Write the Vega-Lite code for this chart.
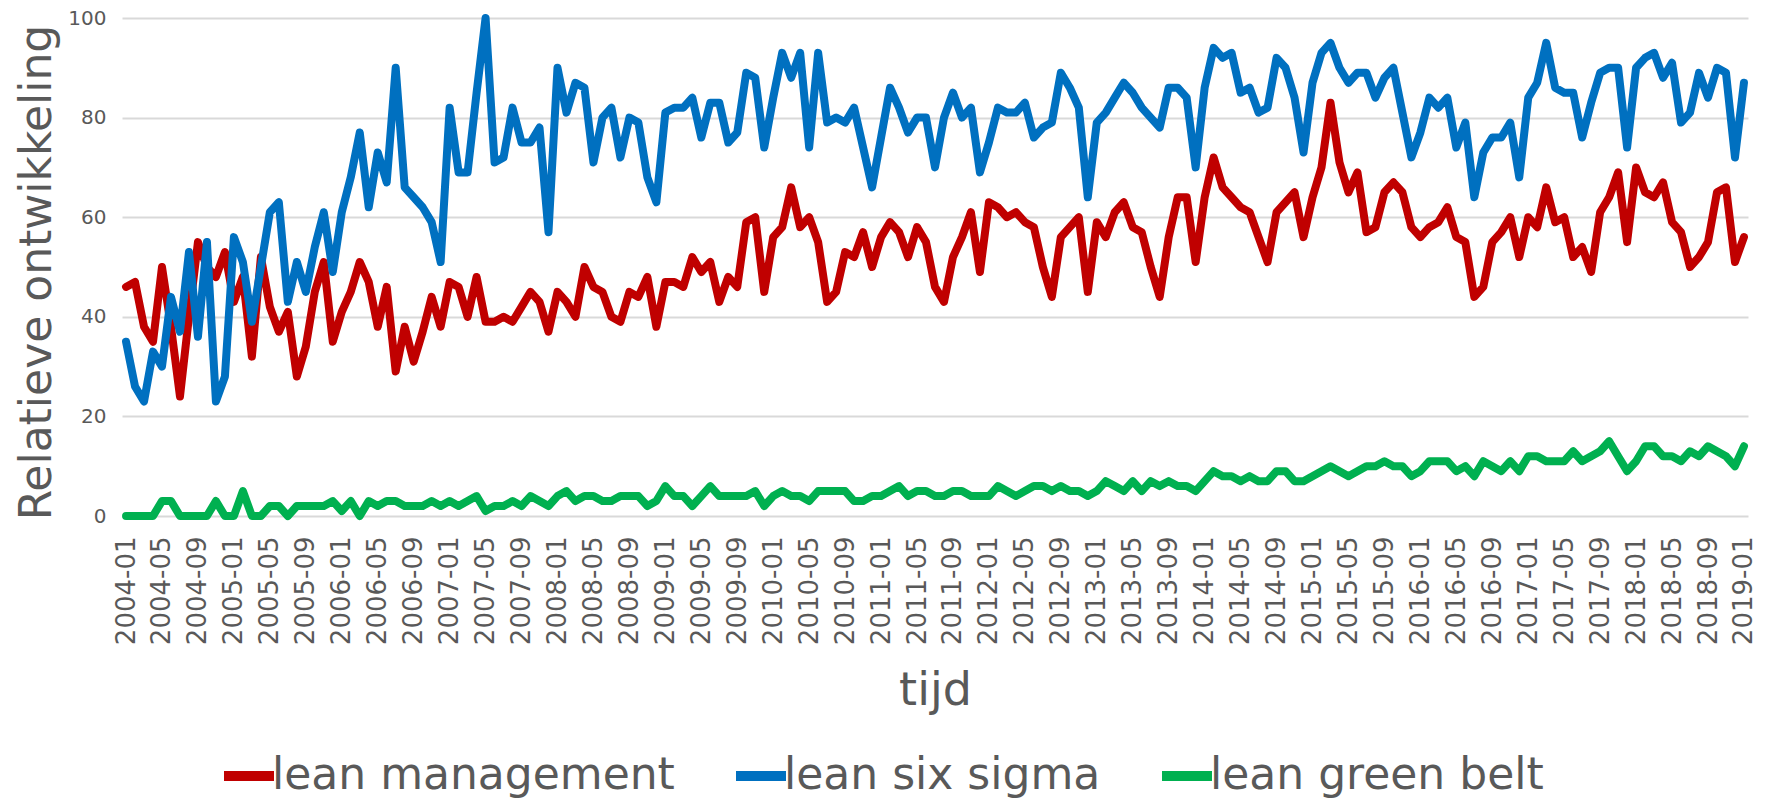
{
"$schema": "https://vega.github.io/schema/vega-lite/v6.json",
"width": 1626, "height": 498,
"autosize": {"type": "none"},
"padding": {"left": 122, "top": 18, "right": 29, "bottom": 283},
"config": {"view": {"stroke": null}, "font": "DejaVu Sans"},
"datasets": {"trends": [
{"m":"2004-01","lean management":46,"lean six sigma":35,"lean green belt":0},
{"m":"2004-02","lean management":47,"lean six sigma":26,"lean green belt":0},
{"m":"2004-03","lean management":38,"lean six sigma":23,"lean green belt":0},
{"m":"2004-04","lean management":35,"lean six sigma":33,"lean green belt":0},
{"m":"2004-05","lean management":50,"lean six sigma":30,"lean green belt":3},
{"m":"2004-06","lean management":38,"lean six sigma":44,"lean green belt":3},
{"m":"2004-07","lean management":24,"lean six sigma":37,"lean green belt":0},
{"m":"2004-08","lean management":40,"lean six sigma":53,"lean green belt":0},
{"m":"2004-09","lean management":55,"lean six sigma":36,"lean green belt":0},
{"m":"2004-10","lean management":50,"lean six sigma":55,"lean green belt":0},
{"m":"2004-11","lean management":48,"lean six sigma":23,"lean green belt":3},
{"m":"2004-12","lean management":53,"lean six sigma":28,"lean green belt":0},
{"m":"2005-01","lean management":43,"lean six sigma":56,"lean green belt":0},
{"m":"2005-02","lean management":48,"lean six sigma":51,"lean green belt":5},
{"m":"2005-03","lean management":32,"lean six sigma":39,"lean green belt":0},
{"m":"2005-04","lean management":52,"lean six sigma":50,"lean green belt":0},
{"m":"2005-05","lean management":42,"lean six sigma":61,"lean green belt":2},
{"m":"2005-06","lean management":37,"lean six sigma":63,"lean green belt":2},
{"m":"2005-07","lean management":41,"lean six sigma":43,"lean green belt":0},
{"m":"2005-08","lean management":28,"lean six sigma":51,"lean green belt":2},
{"m":"2005-09","lean management":34,"lean six sigma":45,"lean green belt":2},
{"m":"2005-10","lean management":45,"lean six sigma":54,"lean green belt":2},
{"m":"2005-11","lean management":51,"lean six sigma":61,"lean green belt":2},
{"m":"2005-12","lean management":35,"lean six sigma":49,"lean green belt":3},
{"m":"2006-01","lean management":41,"lean six sigma":61,"lean green belt":1},
{"m":"2006-02","lean management":45,"lean six sigma":68,"lean green belt":3},
{"m":"2006-03","lean management":51,"lean six sigma":77,"lean green belt":0},
{"m":"2006-04","lean management":47,"lean six sigma":62,"lean green belt":3},
{"m":"2006-05","lean management":38,"lean six sigma":73,"lean green belt":2},
{"m":"2006-06","lean management":46,"lean six sigma":67,"lean green belt":3},
{"m":"2006-07","lean management":29,"lean six sigma":90,"lean green belt":3},
{"m":"2006-08","lean management":38,"lean six sigma":66,"lean green belt":2},
{"m":"2006-09","lean management":31,"lean six sigma":64,"lean green belt":2},
{"m":"2006-10","lean management":37,"lean six sigma":62,"lean green belt":2},
{"m":"2006-11","lean management":44,"lean six sigma":59,"lean green belt":3},
{"m":"2006-12","lean management":38,"lean six sigma":51,"lean green belt":2},
{"m":"2007-01","lean management":47,"lean six sigma":82,"lean green belt":3},
{"m":"2007-02","lean management":46,"lean six sigma":69,"lean green belt":2},
{"m":"2007-03","lean management":40,"lean six sigma":69,"lean green belt":3},
{"m":"2007-04","lean management":48,"lean six sigma":85,"lean green belt":4},
{"m":"2007-05","lean management":39,"lean six sigma":100,"lean green belt":1},
{"m":"2007-06","lean management":39,"lean six sigma":71,"lean green belt":2},
{"m":"2007-07","lean management":40,"lean six sigma":72,"lean green belt":2},
{"m":"2007-08","lean management":39,"lean six sigma":82,"lean green belt":3},
{"m":"2007-09","lean management":42,"lean six sigma":75,"lean green belt":2},
{"m":"2007-10","lean management":45,"lean six sigma":75,"lean green belt":4},
{"m":"2007-11","lean management":43,"lean six sigma":78,"lean green belt":3},
{"m":"2007-12","lean management":37,"lean six sigma":57,"lean green belt":2},
{"m":"2008-01","lean management":45,"lean six sigma":90,"lean green belt":4},
{"m":"2008-02","lean management":43,"lean six sigma":81,"lean green belt":5},
{"m":"2008-03","lean management":40,"lean six sigma":87,"lean green belt":3},
{"m":"2008-04","lean management":50,"lean six sigma":86,"lean green belt":4},
{"m":"2008-05","lean management":46,"lean six sigma":71,"lean green belt":4},
{"m":"2008-06","lean management":45,"lean six sigma":80,"lean green belt":3},
{"m":"2008-07","lean management":40,"lean six sigma":82,"lean green belt":3},
{"m":"2008-08","lean management":39,"lean six sigma":72,"lean green belt":4},
{"m":"2008-09","lean management":45,"lean six sigma":80,"lean green belt":4},
{"m":"2008-10","lean management":44,"lean six sigma":79,"lean green belt":4},
{"m":"2008-11","lean management":48,"lean six sigma":68,"lean green belt":2},
{"m":"2008-12","lean management":38,"lean six sigma":63,"lean green belt":3},
{"m":"2009-01","lean management":47,"lean six sigma":81,"lean green belt":6},
{"m":"2009-02","lean management":47,"lean six sigma":82,"lean green belt":4},
{"m":"2009-03","lean management":46,"lean six sigma":82,"lean green belt":4},
{"m":"2009-04","lean management":52,"lean six sigma":84,"lean green belt":2},
{"m":"2009-05","lean management":49,"lean six sigma":76,"lean green belt":4},
{"m":"2009-06","lean management":51,"lean six sigma":83,"lean green belt":6},
{"m":"2009-07","lean management":43,"lean six sigma":83,"lean green belt":4},
{"m":"2009-08","lean management":48,"lean six sigma":75,"lean green belt":4},
{"m":"2009-09","lean management":46,"lean six sigma":77,"lean green belt":4},
{"m":"2009-10","lean management":59,"lean six sigma":89,"lean green belt":4},
{"m":"2009-11","lean management":60,"lean six sigma":88,"lean green belt":5},
{"m":"2009-12","lean management":45,"lean six sigma":74,"lean green belt":2},
{"m":"2010-01","lean management":56,"lean six sigma":84,"lean green belt":4},
{"m":"2010-02","lean management":58,"lean six sigma":93,"lean green belt":5},
{"m":"2010-03","lean management":66,"lean six sigma":88,"lean green belt":4},
{"m":"2010-04","lean management":58,"lean six sigma":93,"lean green belt":4},
{"m":"2010-05","lean management":60,"lean six sigma":74,"lean green belt":3},
{"m":"2010-06","lean management":55,"lean six sigma":93,"lean green belt":5},
{"m":"2010-07","lean management":43,"lean six sigma":79,"lean green belt":5},
{"m":"2010-08","lean management":45,"lean six sigma":80,"lean green belt":5},
{"m":"2010-09","lean management":53,"lean six sigma":79,"lean green belt":5},
{"m":"2010-10","lean management":52,"lean six sigma":82,"lean green belt":3},
{"m":"2010-11","lean management":57,"lean six sigma":74,"lean green belt":3},
{"m":"2010-12","lean management":50,"lean six sigma":66,"lean green belt":4},
{"m":"2011-01","lean management":56,"lean six sigma":76,"lean green belt":4},
{"m":"2011-02","lean management":59,"lean six sigma":86,"lean green belt":5},
{"m":"2011-03","lean management":57,"lean six sigma":82,"lean green belt":6},
{"m":"2011-04","lean management":52,"lean six sigma":77,"lean green belt":4},
{"m":"2011-05","lean management":58,"lean six sigma":80,"lean green belt":5},
{"m":"2011-06","lean management":55,"lean six sigma":80,"lean green belt":5},
{"m":"2011-07","lean management":46,"lean six sigma":70,"lean green belt":4},
{"m":"2011-08","lean management":43,"lean six sigma":80,"lean green belt":4},
{"m":"2011-09","lean management":52,"lean six sigma":85,"lean green belt":5},
{"m":"2011-10","lean management":56,"lean six sigma":80,"lean green belt":5},
{"m":"2011-11","lean management":61,"lean six sigma":82,"lean green belt":4},
{"m":"2011-12","lean management":49,"lean six sigma":69,"lean green belt":4},
{"m":"2012-01","lean management":63,"lean six sigma":75,"lean green belt":4},
{"m":"2012-02","lean management":62,"lean six sigma":82,"lean green belt":6},
{"m":"2012-03","lean management":60,"lean six sigma":81,"lean green belt":5},
{"m":"2012-04","lean management":61,"lean six sigma":81,"lean green belt":4},
{"m":"2012-05","lean management":59,"lean six sigma":83,"lean green belt":5},
{"m":"2012-06","lean management":58,"lean six sigma":76,"lean green belt":6},
{"m":"2012-07","lean management":50,"lean six sigma":78,"lean green belt":6},
{"m":"2012-08","lean management":44,"lean six sigma":79,"lean green belt":5},
{"m":"2012-09","lean management":56,"lean six sigma":89,"lean green belt":6},
{"m":"2012-10","lean management":58,"lean six sigma":86,"lean green belt":5},
{"m":"2012-11","lean management":60,"lean six sigma":82,"lean green belt":5},
{"m":"2012-12","lean management":45,"lean six sigma":64,"lean green belt":4},
{"m":"2013-01","lean management":59,"lean six sigma":79,"lean green belt":5},
{"m":"2013-02","lean management":56,"lean six sigma":81,"lean green belt":7},
{"m":"2013-03","lean management":61,"lean six sigma":84,"lean green belt":6},
{"m":"2013-04","lean management":63,"lean six sigma":87,"lean green belt":5},
{"m":"2013-05","lean management":58,"lean six sigma":85,"lean green belt":7},
{"m":"2013-06","lean management":57,"lean six sigma":82,"lean green belt":5},
{"m":"2013-07","lean management":50,"lean six sigma":80,"lean green belt":7},
{"m":"2013-08","lean management":44,"lean six sigma":78,"lean green belt":6},
{"m":"2013-09","lean management":56,"lean six sigma":86,"lean green belt":7},
{"m":"2013-10","lean management":64,"lean six sigma":86,"lean green belt":6},
{"m":"2013-11","lean management":64,"lean six sigma":84,"lean green belt":6},
{"m":"2013-12","lean management":51,"lean six sigma":70,"lean green belt":5},
{"m":"2014-01","lean management":64,"lean six sigma":86,"lean green belt":7},
{"m":"2014-02","lean management":72,"lean six sigma":94,"lean green belt":9},
{"m":"2014-03","lean management":66,"lean six sigma":92,"lean green belt":8},
{"m":"2014-04","lean management":64,"lean six sigma":93,"lean green belt":8},
{"m":"2014-05","lean management":62,"lean six sigma":85,"lean green belt":7},
{"m":"2014-06","lean management":61,"lean six sigma":86,"lean green belt":8},
{"m":"2014-07","lean management":56,"lean six sigma":81,"lean green belt":7},
{"m":"2014-08","lean management":51,"lean six sigma":82,"lean green belt":7},
{"m":"2014-09","lean management":61,"lean six sigma":92,"lean green belt":9},
{"m":"2014-10","lean management":63,"lean six sigma":90,"lean green belt":9},
{"m":"2014-11","lean management":65,"lean six sigma":84,"lean green belt":7},
{"m":"2014-12","lean management":56,"lean six sigma":73,"lean green belt":7},
{"m":"2015-01","lean management":64,"lean six sigma":87,"lean green belt":8},
{"m":"2015-02","lean management":70,"lean six sigma":93,"lean green belt":9},
{"m":"2015-03","lean management":83,"lean six sigma":95,"lean green belt":10},
{"m":"2015-04","lean management":71,"lean six sigma":90,"lean green belt":9},
{"m":"2015-05","lean management":65,"lean six sigma":87,"lean green belt":8},
{"m":"2015-06","lean management":69,"lean six sigma":89,"lean green belt":9},
{"m":"2015-07","lean management":57,"lean six sigma":89,"lean green belt":10},
{"m":"2015-08","lean management":58,"lean six sigma":84,"lean green belt":10},
{"m":"2015-09","lean management":65,"lean six sigma":88,"lean green belt":11},
{"m":"2015-10","lean management":67,"lean six sigma":90,"lean green belt":10},
{"m":"2015-11","lean management":65,"lean six sigma":81,"lean green belt":10},
{"m":"2015-12","lean management":58,"lean six sigma":72,"lean green belt":8},
{"m":"2016-01","lean management":56,"lean six sigma":77,"lean green belt":9},
{"m":"2016-02","lean management":58,"lean six sigma":84,"lean green belt":11},
{"m":"2016-03","lean management":59,"lean six sigma":82,"lean green belt":11},
{"m":"2016-04","lean management":62,"lean six sigma":84,"lean green belt":11},
{"m":"2016-05","lean management":56,"lean six sigma":74,"lean green belt":9},
{"m":"2016-06","lean management":55,"lean six sigma":79,"lean green belt":10},
{"m":"2016-07","lean management":44,"lean six sigma":64,"lean green belt":8},
{"m":"2016-08","lean management":46,"lean six sigma":73,"lean green belt":11},
{"m":"2016-09","lean management":55,"lean six sigma":76,"lean green belt":10},
{"m":"2016-10","lean management":57,"lean six sigma":76,"lean green belt":9},
{"m":"2016-11","lean management":60,"lean six sigma":79,"lean green belt":11},
{"m":"2016-12","lean management":52,"lean six sigma":68,"lean green belt":9},
{"m":"2017-01","lean management":60,"lean six sigma":84,"lean green belt":12},
{"m":"2017-02","lean management":58,"lean six sigma":87,"lean green belt":12},
{"m":"2017-03","lean management":66,"lean six sigma":95,"lean green belt":11},
{"m":"2017-04","lean management":59,"lean six sigma":86,"lean green belt":11},
{"m":"2017-05","lean management":60,"lean six sigma":85,"lean green belt":11},
{"m":"2017-06","lean management":52,"lean six sigma":85,"lean green belt":13},
{"m":"2017-07","lean management":54,"lean six sigma":76,"lean green belt":11},
{"m":"2017-08","lean management":49,"lean six sigma":83,"lean green belt":12},
{"m":"2017-09","lean management":61,"lean six sigma":89,"lean green belt":13},
{"m":"2017-10","lean management":64,"lean six sigma":90,"lean green belt":15},
{"m":"2017-11","lean management":69,"lean six sigma":90,"lean green belt":12},
{"m":"2017-12","lean management":55,"lean six sigma":74,"lean green belt":9},
{"m":"2018-01","lean management":70,"lean six sigma":90,"lean green belt":11},
{"m":"2018-02","lean management":65,"lean six sigma":92,"lean green belt":14},
{"m":"2018-03","lean management":64,"lean six sigma":93,"lean green belt":14},
{"m":"2018-04","lean management":67,"lean six sigma":88,"lean green belt":12},
{"m":"2018-05","lean management":59,"lean six sigma":91,"lean green belt":12},
{"m":"2018-06","lean management":57,"lean six sigma":79,"lean green belt":11},
{"m":"2018-07","lean management":50,"lean six sigma":81,"lean green belt":13},
{"m":"2018-08","lean management":52,"lean six sigma":89,"lean green belt":12},
{"m":"2018-09","lean management":55,"lean six sigma":84,"lean green belt":14},
{"m":"2018-10","lean management":65,"lean six sigma":90,"lean green belt":13},
{"m":"2018-11","lean management":66,"lean six sigma":89,"lean green belt":12},
{"m":"2018-12","lean management":51,"lean six sigma":72,"lean green belt":10},
{"m":"2019-01","lean management":56,"lean six sigma":87,"lean green belt":14}
]},
"data": {"name": "trends"},
"transform": [{"fold": ["lean management", "lean six sigma", "lean green belt"], "as": ["reeks", "waarde"]}],
"mark": {"type": "line", "strokeWidth": 8, "strokeJoin": "round", "strokeCap": "round"},
"encoding": {
  "x": {"field": "m", "type": "ordinal", "scale": {"type": "point", "padding": 0.45},
    "axis": {"title": "tijd",
      "values": ["2004-01","2004-05","2004-09","2005-01","2005-05","2005-09","2006-01","2006-05","2006-09","2007-01","2007-05","2007-09","2008-01","2008-05","2008-09","2009-01","2009-05","2009-09","2010-01","2010-05","2010-09","2011-01","2011-05","2011-09","2012-01","2012-05","2012-09","2013-01","2013-05","2013-09","2014-01","2014-05","2014-09","2015-01","2015-05","2015-09","2016-01","2016-05","2016-09","2017-01","2017-05","2017-09","2018-01","2018-05","2018-09","2019-01"],
      "labelAngle": -90, "labelAlign": "right", "labelBaseline": "middle",
      "labelFontSize": 26, "labelColor": "#595959", "labelPadding": 20,
      "labelOverlap": false, "labelBound": false, "labelFlush": false,
      "ticks": false, "domain": false, "grid": false,
      "titleFontSize": 46, "titleFontWeight": "normal", "titleColor": "#595959",
      "titleBaseline": "middle", "titleY": 174}},
  "y": {"field": "waarde", "type": "quantitative", "scale": {"domain": [0, 100], "nice": false},
    "axis": {"title": "Relatieve ontwikkeling", "values": [0, 20, 40, 60, 80, 100],
      "grid": true, "gridColor": "#d9d9d9", "gridWidth": 2, "domain": false, "ticks": false,
      "labelFontSize": 20, "labelColor": "#595959", "labelPadding": 16,
      "titleFontSize": 44, "titleFontWeight": "normal", "titleColor": "#595959",
      "titleAngle": -90, "titleX": -85, "titleY": 254, "titleBaseline": "middle", "titleAlign": "center"}},
  "color": {"field": "reeks", "type": "nominal",
    "scale": {"domain": ["lean management", "lean six sigma", "lean green belt"], "range": ["#C00000", "#0070C0", "#00B050"]},
    "legend": {"orient": "none", "legendX": 97, "legendY": 728, "direction": "horizontal", "title": null,
      "symbolType": "stroke", "symbolSize": 2500, "symbolStrokeWidth": 10,
      "labelFontSize": 44, "labelColor": "#595959", "labelOffset": -7, "labelLimit": 1000,
      "columnPadding": 41, "gridAlign": "none"}}
}
}
